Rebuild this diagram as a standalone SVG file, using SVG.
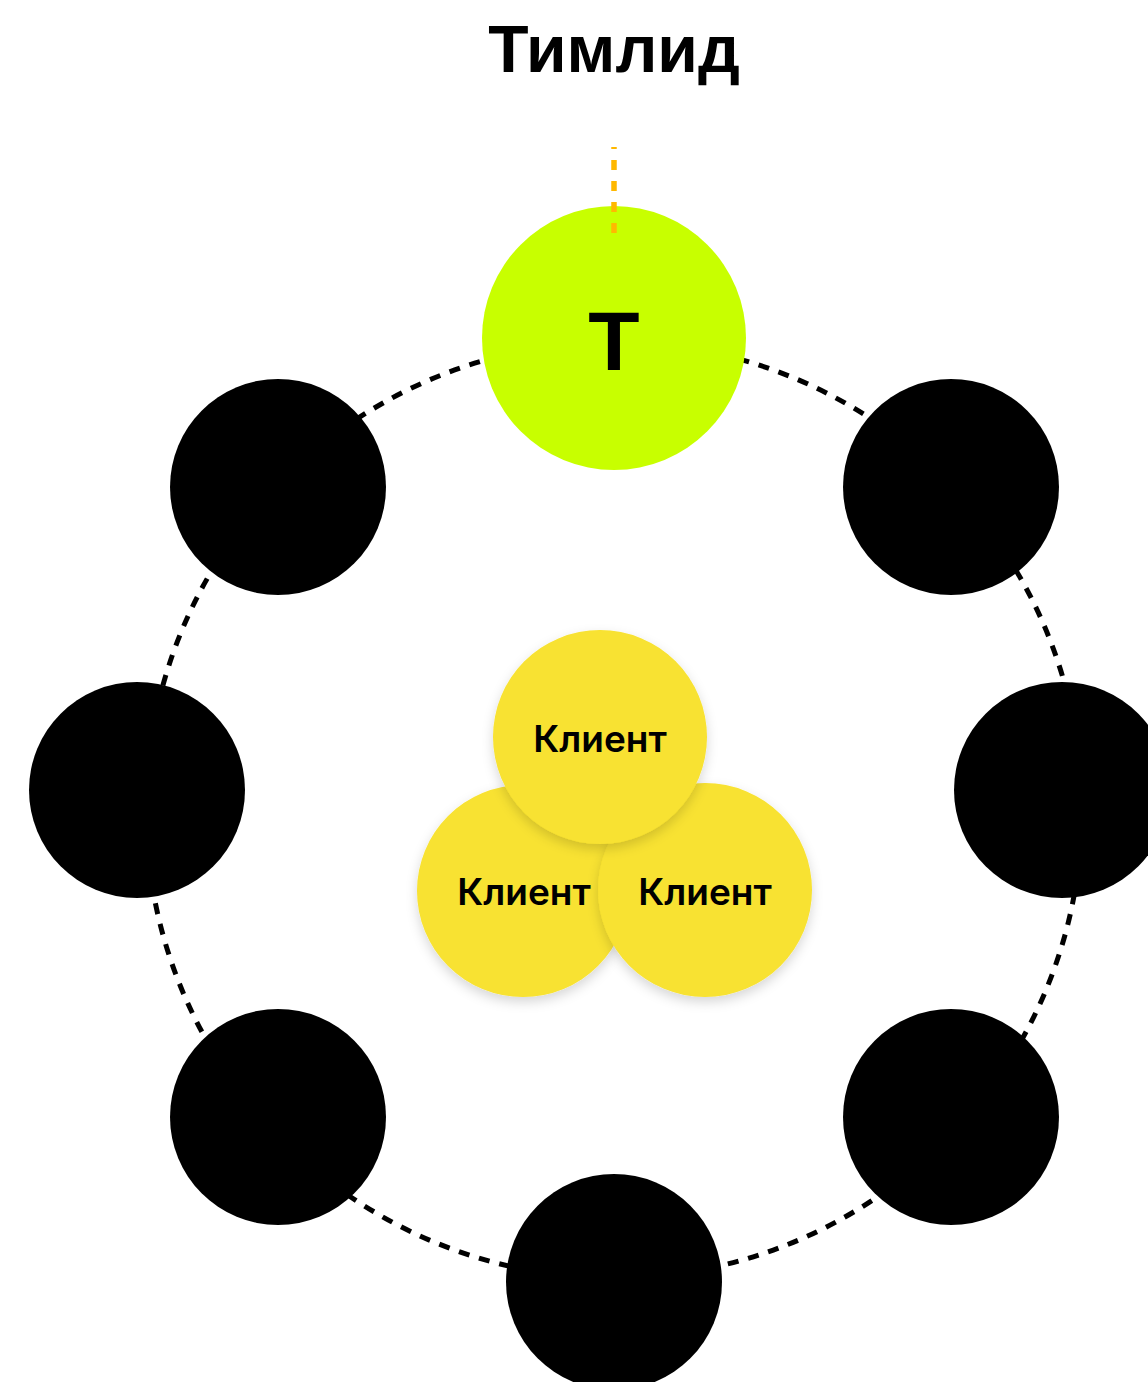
<svg xmlns="http://www.w3.org/2000/svg" width="1148" height="1382" viewBox="0 0 1148 1382">
<defs>
<filter id="sh" x="-20%" y="-20%" width="140%" height="150%">
<feDropShadow dx="0" dy="5" stdDeviation="6" flood-color="#000" flood-opacity="0.16"/>
</filter>
</defs>
<style>
.member{fill:#000}
.lead{fill:#C8FF00}
.client{fill:#F8E231;filter:url(#sh)}
.ring{fill:none;stroke:#000;stroke-width:5;stroke-dasharray:11 10}
.lead-line{stroke:#FFB800;stroke-width:5.5;stroke-dasharray:10 11}
.title{font-family:"Liberation Sans",Arial,sans-serif;font-weight:bold;font-size:66px;fill:#000;text-anchor:middle}
.ltext{font-family:"Liberation Sans",Arial,sans-serif;font-weight:bold;font-size:84px;fill:#000;text-anchor:middle}
.ctext{font-family:Inter,"Liberation Sans",Arial,sans-serif;font-weight:600;font-size:37px;fill:#000;text-anchor:middle}
</style>
<rect width="1148" height="1382" fill="#fff"/>
<text class="title" x="614" y="72">Тимлид</text>
<g id="connectors">
<circle class="ring" cx="614" cy="810" r="468"/>
</g>
<g id="lead"><circle class="lead" cx="614" cy="338" r="132"/><text class="ltext" x="614" y="370">Т</text></g>
<g id="lead-marker"><line class="lead-line" x1="614" y1="233" x2="614" y2="147"/></g>
<g id="m-upper-left"><circle class="member" cx="278" cy="487" r="108"/></g>
<g id="m-upper-right"><circle class="member" cx="951" cy="487" r="108"/></g>
<g id="m-left"><circle class="member" cx="137" cy="790" r="108"/></g>
<g id="m-right"><circle class="member" cx="1062" cy="790" r="108"/></g>
<g id="m-lower-left"><circle class="member" cx="278" cy="1117" r="108"/></g>
<g id="m-lower-right"><circle class="member" cx="951" cy="1117" r="108"/></g>
<g id="m-bottom"><circle class="member" cx="614" cy="1282" r="108"/></g>
<g id="client-left"><circle class="client" cx="523" cy="891" r="106"/><text class="ctext" x="524" y="905">Клиент</text></g>
<g id="client-right"><circle class="client" cx="705" cy="890" r="107"/><text class="ctext" x="705" y="905">Клиент</text></g>
<g id="client-top"><circle class="client" cx="600" cy="737" r="107"/><text class="ctext" x="600" y="752">Клиент</text></g>
</svg>
